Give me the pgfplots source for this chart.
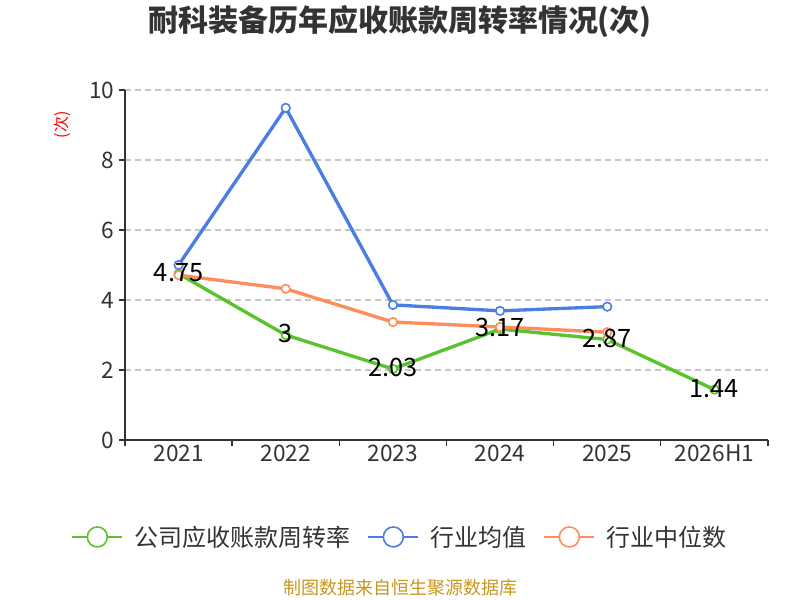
\documentclass[border=0pt]{standalone}
\usepackage{pgfplots}
\pgfplotsset{compat=1.18}
\usepackage{fontspec}
\setmainfont{Noto Sans CJK SC}
\definecolor{cgreen}{HTML}{5AC22A}
\definecolor{cblue}{HTML}{4A7EE0}
\definecolor{corange}{HTML}{FF8C5A}
\definecolor{ctext}{HTML}{333333}
\definecolor{cfoot}{HTML}{C8961E}
\begin{document}
\begin{tikzpicture}
\path[use as bounding box] (0,0) rectangle (600pt,450pt);
\begin{axis}[
 at={(93.75pt,120pt)}, anchor=south west, scale only axis,
 width=482.25pt, height=262.5pt,
 xmin=-0.5, xmax=5.5, ymin=0, ymax=10,
 xtick={-0.5,0.5,...,5.5}, xticklabels={},
 extra x ticks={0,1,2,3,4,5},
 extra x tick labels={2021,2022,2023,2024,2025,2026H1},
 extra x tick style={major tick length=0pt},
 ytick={0,2,...,10},
 axis x line*=bottom, axis y line*=left,
 axis line style={-, draw=ctext, line width=1.1pt},
 tick align=outside,
 major tick length=4.5pt,
 tick style={draw=ctext, line width=1pt},
 ymajorgrids, grid style={dash pattern=on 4.5pt off 3pt, draw=gray!45, line width=0.8pt},
 ticklabel style={font=\fontsize{17}{17}\selectfont, text=ctext},
 /pgf/number format/assume math mode=true,
 clip=false,
 legend style={at={(0.4277,-0.277)}, anchor=center, draw=none, fill=none,
   legend columns=-1, font=\fontsize{18}{18}\selectfont, text=ctext,
   /tikz/every odd column/.append style={column sep=6pt},
   /tikz/every even column/.append style={column sep=11pt}},
 legend image code/.code={
   \draw[#1,mark=none,line width=1.5pt] (0pt,0pt) -- (37.5pt,0pt);
   \draw[#1,mark size=7.5pt] plot coordinates {(18.75pt,0pt)};},
]
\addplot[cgreen, line width=2.5pt, mark=*, mark size=3.2pt, mark options={solid, fill=white, line width=1.2pt}]
 coordinates {(0,4.75)(1,3)(2,2.03)(3,3.17)(4,2.87)(5,1.44)};
\addlegendentry{公司应收账款周转率}
\addplot[cblue, line width=2.5pt, mark=*, mark size=3.2pt, mark options={solid, fill=white, line width=1.2pt}]
 coordinates {(0,5.0)(1,9.49)(2,3.86)(3,3.69)(4,3.81)};
\addlegendentry{行业均值}
\addplot[corange, line width=2.5pt, mark=*, mark size=3.2pt, mark options={solid, fill=white, line width=1.2pt}]
 coordinates {(0,4.71)(1,4.32)(2,3.37)(3,3.23)(4,3.08)};
\addlegendentry{行业中位数}
\addplot[draw=none, mark=none, forget plot, nodes near coords, point meta=explicit symbolic,
 nodes near coords style={anchor=center, font=\fontsize{19}{19}\selectfont, text=black, inner sep=0pt, yshift=1pt}]
 coordinates {(0,4.75)[4.75] (1,3)[3] (2,2.03)[2.03] (3,3.17)[3.17] (4,2.87)[2.87] (5,1.44)[1.44]};
\end{axis}
\node[font=\bfseries\fontsize{22.5}{22.5}\selectfont, text=ctext] at (300pt,433.5pt) {耐科装备历年应收账款周转率情况(次)};
\node[rotate=90, text=red, font=\fontsize{12}{12}\selectfont] at (46.5pt,356.25pt) {(次)};
\node[font=\fontsize{13.5}{13.5}\selectfont, text=cfoot] at (300pt,9pt) {制图数据来自恒生聚源数据库};
\end{tikzpicture}
\end{document}
